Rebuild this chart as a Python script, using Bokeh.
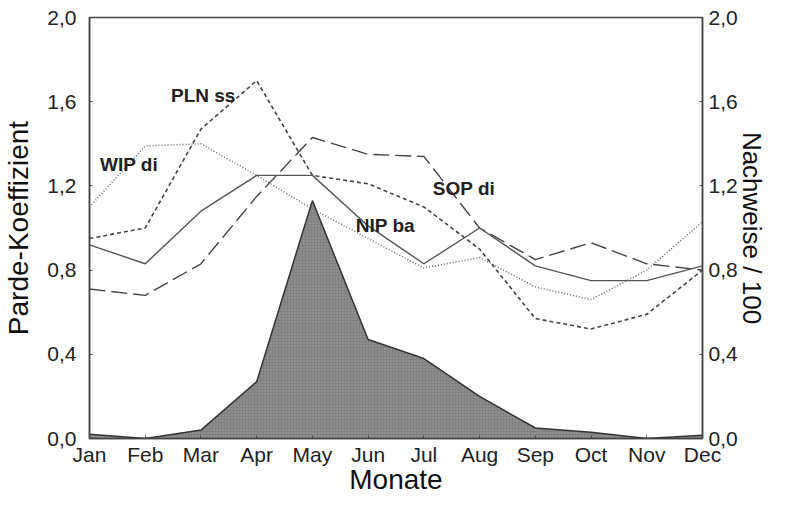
from bokeh.plotting import figure
from bokeh.models import Range1d, LinearAxis, FixedTicker, ColumnDataSource
from bokeh.core.properties import value
from bokeh.embed import file_html
from bokeh.resources import INLINE

months = ["Jan", "Feb", "Mar", "Apr", "May", "Jun", "Jul", "Aug", "Sep", "Oct", "Nov", "Dec"]
nip_ba = [0.92, 0.83, 1.08, 1.25, 1.25, 1.01, 0.83, 1.00, 0.82, 0.75, 0.75, 0.82]
sop_di = [0.71, 0.68, 0.83, 1.15, 1.43, 1.35, 1.34, 1.00, 0.85, 0.93, 0.83, 0.80]
pln_ss = [0.95, 1.00, 1.47, 1.70, 1.25, 1.21, 1.10, 0.90, 0.57, 0.52, 0.59, 0.80]
wip_di = [1.10, 1.39, 1.40, 1.25, 1.09, 0.95, 0.81, 0.86, 0.72, 0.66, 0.80, 1.03]
nachweise = [0.02, 0.0, 0.04, 0.27, 1.13, 0.47, 0.38, 0.20, 0.05, 0.03, 0.0, 0.015]

y_ticks = [0.0, 0.4, 0.8, 1.2, 1.6, 2.0]
y_tick_labels = ["0,0", "0,4", "0,8", "1,2", "1,6", "2,0"]

label_text = ["WIP di", "PLN ss", "NIP ba", "SOP di"]
label_x = [0.71, 2.04, 5.31, 6.72]
label_y = [1.30, 1.63, 1.01, 1.19]

FONT = "Liberation Sans"
xs = list(range(len(months)))

p = figure(width=769, height=497, output_backend="svg", toolbar_location=None,
           x_range=Range1d(0, 11), y_range=Range1d(0, 2.0),
           min_border_left=88, min_border_right=58, min_border_top=17, min_border_bottom=56)
p.extra_y_ranges = {"right": Range1d(0, 2.0)}

p.xgrid.visible = False
p.ygrid.visible = False
p.outline_line_color = "#444444"
p.outline_line_width = 1.5
p.background_fill_color = "white"
p.border_fill_color = "white"

# area (Nachweise / 100)
p.varea(x=xs, y1=[0] * len(xs), y2=nachweise, fill_color="#8e8e8e",
        hatch_pattern="cross", hatch_color="#777777", hatch_scale=3, hatch_weight=0.5,
        y_range_name="right")
p.line(xs, nachweise, line_color="#333333", line_width=1.5, y_range_name="right")

# Parde lines
p.line(xs, wip_di, line_color="#6a6a6a", line_width=1.5, line_dash="1 2")
p.line(xs, pln_ss, line_color="#444444", line_width=1.6, line_dash="4 3")
p.line(xs, sop_di, line_color="#444444", line_width=1.4, line_dash="16 6")
p.line(xs, nip_ba, line_color="#555555", line_width=1.4)

src = ColumnDataSource(dict(x=label_x, y=label_y, t=label_text))
p.text(x="x", y="y", text="t", source=src, text_font=value(FONT), text_font_style="bold",
       text_font_size="19px", text_color="#222222", text_align="center", text_baseline="middle")

# axes
xa = p.xaxis[0]
xa.ticker = FixedTicker(ticks=xs)
xa.major_label_overrides = {i: m for i, m in enumerate(months)}
xa.axis_label = "Monate"

ya = p.yaxis[0]
ya.ticker = FixedTicker(ticks=y_ticks)
ya.major_label_overrides = {t: l for t, l in zip(y_ticks, y_tick_labels)}
ya.axis_label = "Parde-Koeffizient"

ra = LinearAxis(y_range_name="right", axis_label="Nachweise / 100")
ra.ticker = FixedTicker(ticks=y_ticks)
ra.major_label_overrides = {t: l for t, l in zip(y_ticks, y_tick_labels)}
p.add_layout(ra, "right")

for ax in [xa, ya, ra]:
    ax.axis_line_color = "#444444"
    ax.axis_line_width = 1.5
    ax.major_tick_in = 3
    ax.major_tick_out = 0
    ax.major_tick_line_color = "#444444"
    ax.minor_tick_line_color = None
    ax.major_label_text_font = FONT
    ax.major_label_text_font_size = "21px"
    ax.major_label_text_color = "#222222"
    ax.axis_label_text_font = FONT
    ax.axis_label_text_font_style = "normal"
    ax.axis_label_text_color = "#111111"
    ax.axis_label_text_font_size = "28px"

xa.major_label_standoff = 4
xa.axis_label_standoff = -5
ya.major_label_standoff = 13
ya.axis_label_standoff = 10
ra.major_label_standoff = 6
ra.axis_label_standoff = -4
ra.axis_label_text_font_size = "26px"

open("out.html", "w").write(file_html(p, INLINE))
